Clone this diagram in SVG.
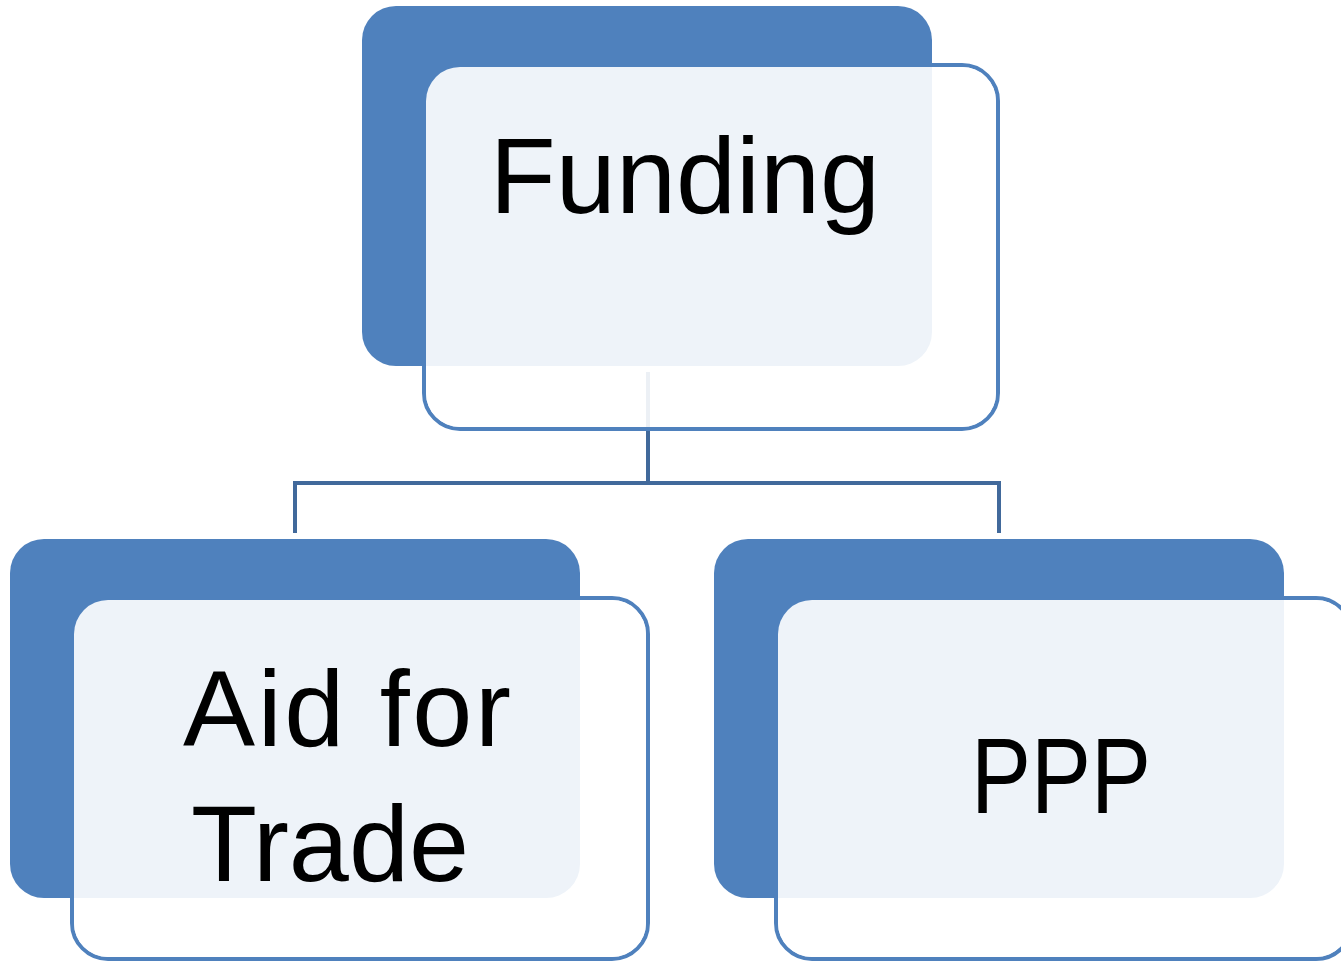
<svg xmlns="http://www.w3.org/2000/svg" width="1341" height="962" viewBox="0 0 1341 962">
<style>
.outline{fill:none;stroke:#4F81BD;stroke-width:4}
.back{fill:#4F81BD}
.front{fill:#FFFFFF;fill-opacity:0.9}
.conn{fill:none;stroke:#41699B;stroke-width:4}
.lbl{font-family:"Liberation Sans",Arial,sans-serif;font-size:108px;fill:#000;text-anchor:middle}
</style>
<rect width="1341" height="962" fill="#FFFFFF"/>
<g id="connectors">
<path class="conn" d="M648,372 V483 M295,533 V483 H999 V533"/>
</g>
<g id="node-funding">
<rect class="outline" x="424" y="65" width="574" height="364" rx="36"/>
<rect class="back" x="362" y="6" width="570" height="360" rx="34"/>
<rect class="front" x="426" y="67" width="570" height="360" rx="34"/>
<text class="lbl" x="685" y="213">Funding</text>
</g>
<g id="node-aid">
<rect class="outline" x="72" y="598" width="576" height="361" rx="36"/>
<rect class="back" x="10" y="539" width="570" height="359" rx="34"/>
<rect class="front" x="74" y="600" width="572" height="357" rx="34"/>
<text class="lbl" x="347" y="746" textLength="328">Aid for</text>
<text class="lbl" x="330" y="881">Trade</text>
</g>
<g id="node-ppp">
<rect class="outline" x="776" y="598" width="576" height="361" rx="36"/>
<rect class="back" x="714" y="539" width="570" height="359" rx="34"/>
<rect class="front" x="778" y="600" width="572" height="357" rx="34"/>
<text class="lbl" x="1061" y="813" textLength="180" lengthAdjust="spacingAndGlyphs">PPP</text>
</g>
</svg>
